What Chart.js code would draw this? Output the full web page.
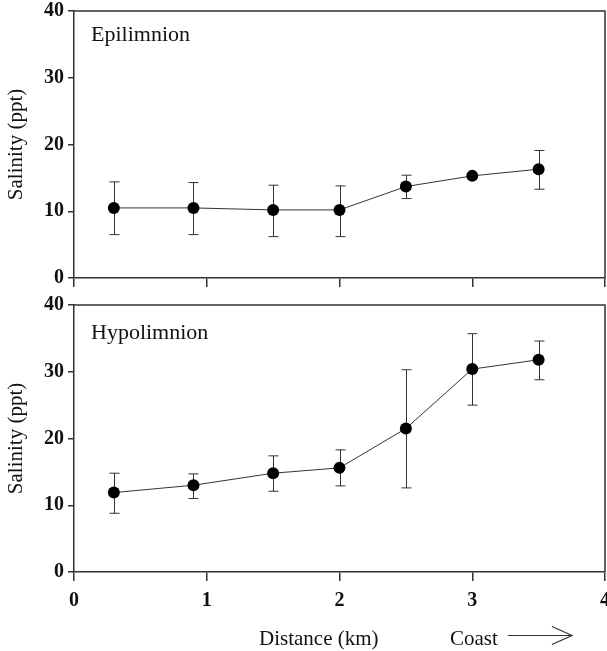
<!DOCTYPE html>
<html>
<head>
<meta charset="utf-8">
<script src="https://cdn.jsdelivr.net/npm/chart.js@4"></script>
<style>
  html, body { margin: 0; padding: 0; background: #fff; }
  #marco { position: relative; width: 607px; height: 651px; }
  .panel { position: absolute; left: 0; width: 607px; }
  #panelSup { top: 0; height: 290px; }
  #panelInf { top: 290px; height: 361px; }
</style>
</head>
<body>
<div id="marco">
  <div class="panel" id="panelSup"><canvas id="epi"></canvas></div>
  <div class="panel" id="panelInf"><canvas id="hypo"></canvas></div>
</div>
<script>
// Distancia a la costa (km) de cada estación
const distancia = [0.3, 0.9, 1.5, 2.0, 2.5, 3.0, 3.5];
const ticksX = [0, 1, 2, 3, 4];
const ticksY = [0, 10, 20, 30, 40];

// Epilimnion: media y extremos de la barra de error (ppt)
const epiMedia = [10.5, 10.5, 10.2, 10.2, 13.7, 15.3, 16.3];
const epiAlto  = [14.4, 14.3, 13.9, 13.8, 15.4, 15.6, 19.1];
const epiBajo  = [6.5, 6.5, 6.2, 6.2, 11.9, 15.0, 13.3];

// Hipolimnion
const hypoMedia = [11.9, 13.0, 14.8, 15.6, 21.5, 30.4, 31.8];
const hypoAlto  = [14.8, 14.7, 17.4, 18.3, 30.3, 35.7, 34.6];
const hypoBajo  = [8.8, 11.0, 12.1, 12.9, 12.6, 25.0, 28.8];

Chart.defaults.font.family = "'Liberation Serif', 'Times New Roman', serif";
Chart.defaults.font.size = 21;
Chart.defaults.color = '#111';

const COLOR_EJE = '#333';

// Barras de error, marco superior/derecho y rótulo del panel
const extras = {
  id: 'extras',
  beforeDatasetsDraw(chart, args, opts) {
    const { ctx, scales: { x, y } } = chart;
    ctx.save();
    ctx.strokeStyle = '#333';
    ctx.lineWidth = 1;
    opts.alto.forEach((hi, i) => {
      const px = Math.round(x.getPixelForValue(distancia[i])) + 0.5;
      const y1 = y.getPixelForValue(hi);
      const y2 = y.getPixelForValue(opts.bajo[i]);
      ctx.beginPath();
      ctx.moveTo(px, y1); ctx.lineTo(px, y2);
      ctx.moveTo(px - 5, y1); ctx.lineTo(px + 5, y1);
      ctx.moveTo(px - 5, y2); ctx.lineTo(px + 5, y2);
      ctx.stroke();
    });
    ctx.restore();
  },
  afterDraw(chart, args, opts) {
    const { ctx, chartArea: a } = chart;
    ctx.save();
    ctx.strokeStyle = COLOR_EJE;
    ctx.lineWidth = 1.5;
    ctx.beginPath();
    ctx.moveTo(a.left, a.top);
    ctx.lineTo(a.right, a.top);
    ctx.lineTo(a.right, a.bottom);
    ctx.stroke();

    ctx.fillStyle = '#111';
    ctx.font = "22px 'Liberation Serif', serif";
    ctx.textBaseline = 'alphabetic';
    ctx.fillText(opts.rotulo, a.left + 17, a.top + opts.rotuloY);

    if (opts.ejeX) {
      const yb = a.bottom + 73;
      ctx.font = "21px 'Liberation Serif', serif";
      ctx.fillText('Distance (km)', 259, yb);
      ctx.fillText('Coast', 450, yb);
      // flecha hacia la costa
      const ya = a.bottom + 63.5;
      ctx.lineWidth = 1.2;
      ctx.beginPath();
      ctx.moveTo(508, ya); ctx.lineTo(572, ya);
      ctx.moveTo(552, ya - 9); ctx.lineTo(572, ya); ctx.lineTo(552, ya + 9);
      ctx.stroke();
    }
    ctx.restore();
  }
};

function crearPanel(id, media, alto, bajo, rotulo, rotuloY, conEtiquetasX, altoEjeX, margenSup) {
  return new Chart(document.getElementById(id), {
    type: 'line',
    data: {
      datasets: [{
        data: distancia.map((d, i) => ({ x: d, y: media[i] })),
        borderColor: '#333',
        borderWidth: 1,
        pointRadius: 6,
        pointHoverRadius: 6,
        pointBackgroundColor: '#000',
        pointBorderColor: '#000',
        pointBorderWidth: 0,
        tension: 0
      }]
    },
    options: {
      responsive: true,
      maintainAspectRatio: false,
      animation: false,
      layout: { autoPadding: false, padding: { top: margenSup, right: 2, left: 0, bottom: 0 } },
      plugins: {
        legend: { display: false },
        tooltip: { enabled: false },
        extras: { alto, bajo, rotulo, rotuloY, ejeX: conEtiquetasX }
      },
      scales: {
        x: {
          type: 'linear',
          min: 0, max: 4,
          afterBuildTicks: s => { s.ticks = ticksX.map(v => ({ value: v })); },
          ticks: {
            display: conEtiquetasX,
            padding: 8,
            font: { weight: 'bold', size: 20 },
            color: '#111'
          },
          grid: { drawOnChartArea: false, drawTicks: true, tickLength: 9, color: COLOR_EJE, lineWidth: 1.5 },
          border: { display: true, color: COLOR_EJE, width: 1.5 },
          afterFit: s => { s.height = altoEjeX; s.paddingLeft = 0; s.paddingRight = 0; }
        },
        y: {
          min: 0, max: 40,
          afterBuildTicks: s => { s.ticks = ticksY.map(v => ({ value: v })); },
          ticks: { padding: 4, font: { weight: 'bold', size: 20 }, color: '#111' },
          grid: { drawOnChartArea: false, drawTicks: true, tickLength: 6, color: COLOR_EJE, lineWidth: 1.5 },
          border: { display: true, color: COLOR_EJE, width: 1.5 },
          title: { display: true, text: 'Salinity (ppt)', color: '#111', padding: { top: 4, bottom: 0 } },
          afterFit: s => { s.width = 74; s.paddingTop = 0; s.paddingBottom = 0; }
        }
      }
    },
    plugins: [extras]
  });
}

crearPanel('epi', epiMedia, epiAlto, epiBajo, 'Epilimnion', 30, false, 12, 11);
crearPanel('hypo', hypoMedia, hypoAlto, hypoBajo, 'Hypolimnion', 34, true, 79, 15);
</script>
</body>
</html>
